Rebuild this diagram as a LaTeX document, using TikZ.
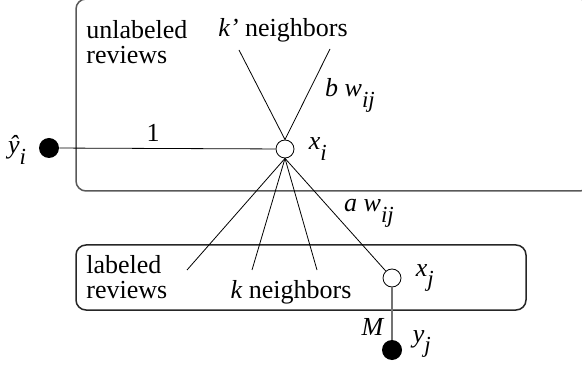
\documentclass[tikz,border=0pt]{standalone}
\usepackage{fontspec}
\setmainfont{Liberation Serif}
\usetikzlibrary{positioning}
\newcommand{\lowsub}[1]{\raisebox{-0.42em}{\fontsize{11.5}{11.5}\selectfont\itshape #1}}

\begin{document}
\begin{tikzpicture}[
    x=0.5pt, y=-0.5pt,
    font=\fontsize{13}{12.5}\selectfont,
    open/.style={circle, draw, thin, fill=white, inner sep=0pt, minimum size=9pt},
    filled/.style={circle, fill=black, inner sep=0pt, minimum size=10pt},
    region/.style={draw=black!65, line width=0.75pt, rounded corners=5pt},
    link/.style={draw, thin},
    lbl/.style={inner sep=1pt}
]
    \useasboundingbox (0,0) rectangle (582,368);
    \clip (0,0) rectangle (582,368);

    % the two sets of reviews
    \draw[region] (76,-1) rectangle (590,191);
    \draw[region, draw=black!85] (76,245) rectangle (526,310);

    \node[lbl, anchor=west, align=left] (unlab) at (84,42) {unlabeled\\reviews};
    \node[lbl, anchor=west, align=left] (lab) at (84,277) {labeled\\reviews};
    \node[lbl] (kup) at (283,30) {\textit{k’} neighbors};
    \node[lbl] (kdown) at (291,292) {\textit{k} neighbors};

    \node[open] (xi) at (285,149) {};
    \node[filled] (yhat) at (49,148) {};
    \node[open] (xj) at (392,278) {};
    \node[filled] (yj) at (392,350) {};

    \coordinate (u1) at (239,50);
    \coordinate (u2) at (330,49);
    \coordinate (l1) at (187,270);
    \coordinate (l2) at (252,270);
    \coordinate (l3) at (317,270);

    \draw[link] (yhat) -- (xi);
    \draw[link] (xi.north) -- (u1);
    \draw[link] (xi.north) -- (u2);
    \draw[link] (xi.south) -- (l1);
    \draw[link] (xi.south) -- (l2);
    \draw[link] (xi.south) -- (l3);
    \draw[link] (xi.south) -- (xj);
    \draw[link, draw=black!55, line width=0.6pt] (xj) -- (yj);

    \node[lbl] (one) at (153,133) {1};
    \node[lbl] (bw) at (350,95) {\textit{b w}\lowsub{ij}};
    \node[lbl] (aw) at (369,213) {\textit{a w}\lowsub{ij}};
    \node[lbl, right=6pt of xi] (xil) {\textit{x}\lowsub{i}};
    \node[lbl, right=6pt of xj] (xjl) {\textit{x}\lowsub{j}};
    \node[lbl, right=4pt of yj, yshift=3pt] (yjl) {\textit{y}\lowsub{j}};
    \node[lbl] (m) at (373,327) {\textit{M}};
    \node[lbl] (yhl) at (17,150) {\textit{ŷ}\lowsub{i}};
\end{tikzpicture}
\end{document}
